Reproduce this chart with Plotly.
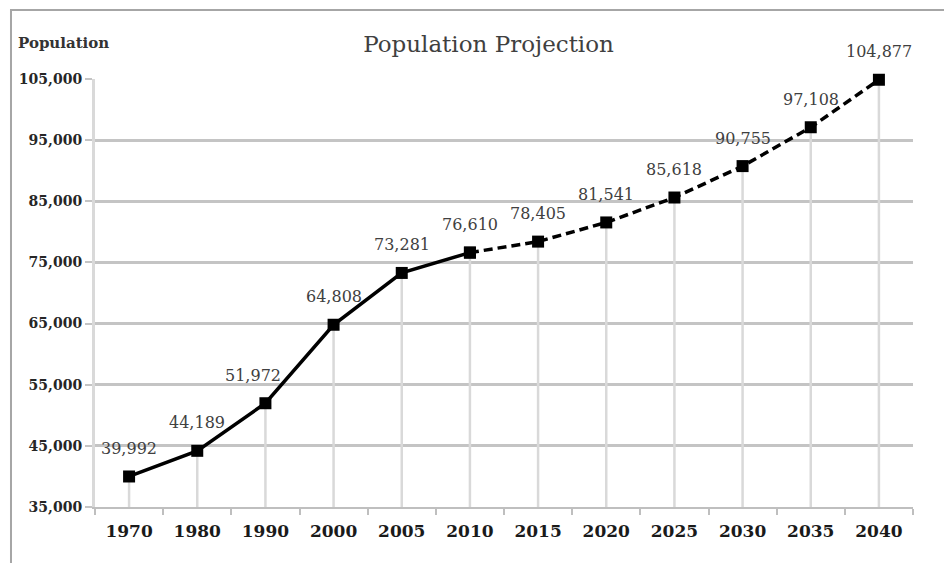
import plotly.graph_objects as go

# Census counts and projections
years = ["1970", "1980", "1990", "2000", "2005", "2010",
         "2015", "2020", "2025", "2030", "2035", "2040"]
population = [39992, 44189, 51972, 64808, 73281, 76610,
              78405, 81541, 85618, 90755, 97108, 104877]
last_actual = 5  # index of 2010, where the projection starts

y_ticks = [35000, 45000, 55000, 65000, 75000, 85000, 95000, 105000]
y_min, y_max = 35000, 105000

idx = list(range(len(years)))
serif = "DejaVu Serif"

fig = go.Figure()

# drop lines from each point to the axis
fig.add_trace(go.Scatter(
    x=idx, y=population, mode="markers",
    marker=dict(size=1, color="rgba(0,0,0,0)"),
    error_y=dict(type="data", symmetric=False,
                 array=[0] * len(population),
                 arrayminus=[v - y_min for v in population],
                 color="#d9d9d9", thickness=2.5, width=0),
    hoverinfo="skip", showlegend=False, cliponaxis=False,
))

# projected segment (dashed)
fig.add_trace(go.Scatter(
    x=idx[last_actual:], y=population[last_actual:], mode="lines+markers",
    line=dict(color="black", width=3.5, dash="9px,5px"),
    marker=dict(symbol="square", size=12, color="black"),
    showlegend=False, cliponaxis=False,
))

# recorded segment (solid)
fig.add_trace(go.Scatter(
    x=idx[:last_actual + 1], y=population[:last_actual + 1], mode="lines+markers",
    line=dict(color="black", width=3.5),
    marker=dict(symbol="square", size=12, color="black"),
    showlegend=False, cliponaxis=False,
))

# value labels above the points
label_nudge = {2: -12}
for i, v in zip(idx, population):
    fig.add_annotation(
        x=i, y=v, text=f"{v:,}", showarrow=False,
        yshift=28, xshift=label_nudge.get(i, 0),
        font=dict(family=serif, size=16, color="#404040"),
    )

# y-axis caption in the top-left corner
fig.add_annotation(
    xref="paper", yref="paper", x=-0.096, y=1.083,
    xanchor="left", yanchor="middle", showarrow=False,
    text="<b>Population</b>",
    font=dict(family=serif, size=15, color="#333333"),
)

# outer frame
fig.add_shape(
    type="rect", xref="paper", yref="paper",
    x0=-0.1027, x1=1.3, y0=-0.5, y1=1.1612,
    line=dict(color="#a6a6a6", width=2), layer="below",
)

fig.update_layout(
    width=944, height=563,
    margin=dict(l=95, r=31, t=79, b=56),
    paper_bgcolor="white", plot_bgcolor="white",
    title=dict(text="Population Projection", x=0.5175, xanchor="center",
               y=0.922, yanchor="middle",
               font=dict(family=serif, size=23, color="#404040")),
    showlegend=False,
)

fig.update_xaxes(
    range=[-0.5, len(years) - 0.5],
    tickmode="array", tickvals=idx, ticktext=years,
    ticks="", showgrid=False,
    showline=True, linecolor="#bfbfbf", linewidth=2,
    minor=dict(tickmode="array",
               tickvals=[i - 0.5 for i in range(len(years) + 1)],
               ticks="outside", ticklen=6, tickwidth=1.5,
               tickcolor="#bfbfbf", showgrid=False),
    tickfont=dict(family=serif, size=17, color="#1a1a1a", weight="bold"),
    ticklabelstandoff=8,
    zeroline=False,
)

fig.update_yaxes(
    range=[y_min, y_max],
    tickmode="array", tickvals=y_ticks,
    ticktext=[f"{t:,}" for t in y_ticks],
    ticks="outside", ticklen=7, tickwidth=2, tickcolor="#c4c4c4",
    showgrid=True, gridcolor="#c4c4c4", gridwidth=2.5,
    showline=True, linecolor="#d9d9d9", linewidth=3,
    tickfont=dict(family=serif, size=14, color="#262626", weight="bold"),
    zeroline=False,
)

fig.write_html("out.html")
